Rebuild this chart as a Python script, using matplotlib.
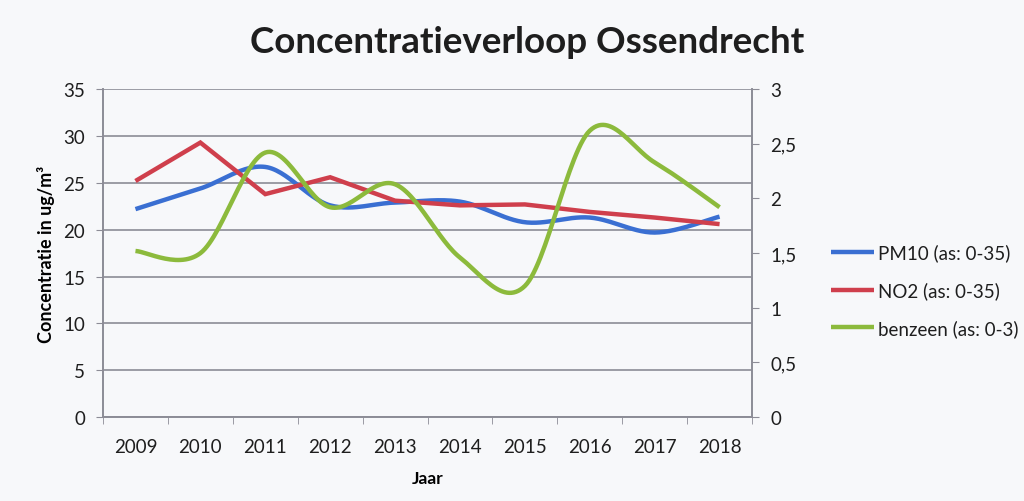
import numpy as np
import matplotlib
matplotlib.use("Agg")
import matplotlib.pyplot as plt

# data
years = ["2009", "2010", "2011", "2012", "2013", "2014", "2015", "2016", "2017", "2018"]
pm10 = [22.2, 24.4, 26.7, 22.6, 22.9, 23.0, 20.8, 21.3, 19.7, 21.4]
no2 = [25.2, 29.3, 23.8, 25.6, 23.1, 22.6, 22.7, 21.9, 21.3, 20.6]
benzeen = [1.52, 1.50, 2.42, 1.92, 2.13, 1.46, 1.20, 2.62, 2.33, 1.92]

plt.rcParams["font.family"] = ["Lato", "DejaVu Sans"]
plt.rcParams["text.color"] = "#1e1e1e"
plt.rcParams["xtick.color"] = "#1e1e1e"
plt.rcParams["ytick.color"] = "#1e1e1e"


def smooth(y, n=30):
    # excel-style smoothed line: bezier segments, catmull-rom tangents
    y = np.asarray(y, dtype=float)
    x = np.arange(len(y), dtype=float)
    px, py = [], []
    for i in range(len(y) - 1):
        x0, x1 = x[i], x[i + 1]
        y0, y1 = y[i], y[i + 1]
        yp = y[i - 1] if i > 0 else y0
        yn = y[i + 2] if i + 2 < len(y) else y1
        xp = x[i - 1] if i > 0 else x0
        xn = x[i + 2] if i + 2 < len(y) else x1
        c1x, c1y = x0 + (x1 - xp) / 6, y0 + (y1 - yp) / 6
        c2x, c2y = x1 - (xn - x0) / 6, y1 - (yn - y0) / 6
        t = np.linspace(0, 1, n)
        a, b, c, d = (1 - t) ** 3, 3 * (1 - t) ** 2 * t, 3 * (1 - t) * t ** 2, t ** 3
        px.extend(a * x0 + b * c1x + c * c2x + d * x1)
        py.extend(a * y0 + b * c1y + c * c2y + d * y1)
    return np.array(px), np.array(py)


bg = "#f7f8fa"
grid_col = "#8c8c96"
blue = "#3a6fd2"
red = "#cf3f4c"
green = "#8cba3c"

fig = plt.figure(figsize=(10.24, 5.02), dpi=100, facecolor=bg)
ax = fig.add_axes([0.1006, 0.167, 0.6338, 0.6534])
ax.set_facecolor(bg)
ax2 = ax.twinx()

xs, ys = smooth(pm10)
l1, = ax.plot(xs, ys, color=blue, lw=3.2, solid_capstyle="butt", label="PM10 (as: 0-35)", zorder=3)
l2, = ax.plot(np.arange(len(no2)), no2, color=red, lw=3.2, solid_joinstyle="miter",
              solid_capstyle="butt", label="NO2 (as: 0-35)", zorder=3)
xs, ys = smooth(benzeen)
l3, = ax2.plot(xs, ys, color=green, lw=3.2, solid_capstyle="butt", label="benzeen (as: 0-3)", zorder=3)

ax.set_xlim(-0.5, len(years) - 0.5)
ax.set_ylim(0, 35)
ax2.set_ylim(0, 3)
ax.set_yticks(np.arange(0, 36, 5))
ax2.set_yticks(np.arange(0, 3.01, 0.5))
ax2.set_yticklabels(["0", "0,5", "1", "1,5", "2", "2,5", "3"])
ax.set_xticks(np.arange(len(years)))
ax.set_xticklabels(years)
ax.set_xticks(np.arange(-0.5, len(years)), minor=True)
ax.tick_params(axis="x", which="major", length=0, pad=15, labelsize=13.5)
ax.tick_params(axis="x", which="minor", length=5, color=grid_col, direction="out")
ax.tick_params(axis="y", length=5, color=grid_col, pad=8, labelsize=13.5)
ax2.tick_params(axis="y", length=5, color=grid_col, pad=8, labelsize=13.5)

ax.grid(axis="y", color=grid_col, lw=1.2)
ax.set_axisbelow(True)
for a in (ax, ax2):
    a.spines["top"].set_visible(False)
    for s in ("left", "right", "bottom"):
        a.spines[s].set_color(grid_col)
        a.spines[s].set_linewidth(1.2)

ax.set_ylabel("Concentratie in ug/m³", fontsize=13, fontweight="bold", labelpad=6)
ax.set_xlabel("Jaar", fontsize=12.5, fontweight="bold", labelpad=11)
fig.text(0.515, 0.915, "Concentratieverloop Ossendrecht", ha="center", va="center",
         fontsize=26.5, fontweight="bold")

fig.legend(handles=[l1, l2, l3], loc="center left", bbox_to_anchor=(0.795, 0.42),
           frameon=False, fontsize=13.5, handlelength=2.3, handletextpad=0.2,
           labelspacing=1.05)

fig.savefig("out.png", dpi=100, facecolor=bg)
